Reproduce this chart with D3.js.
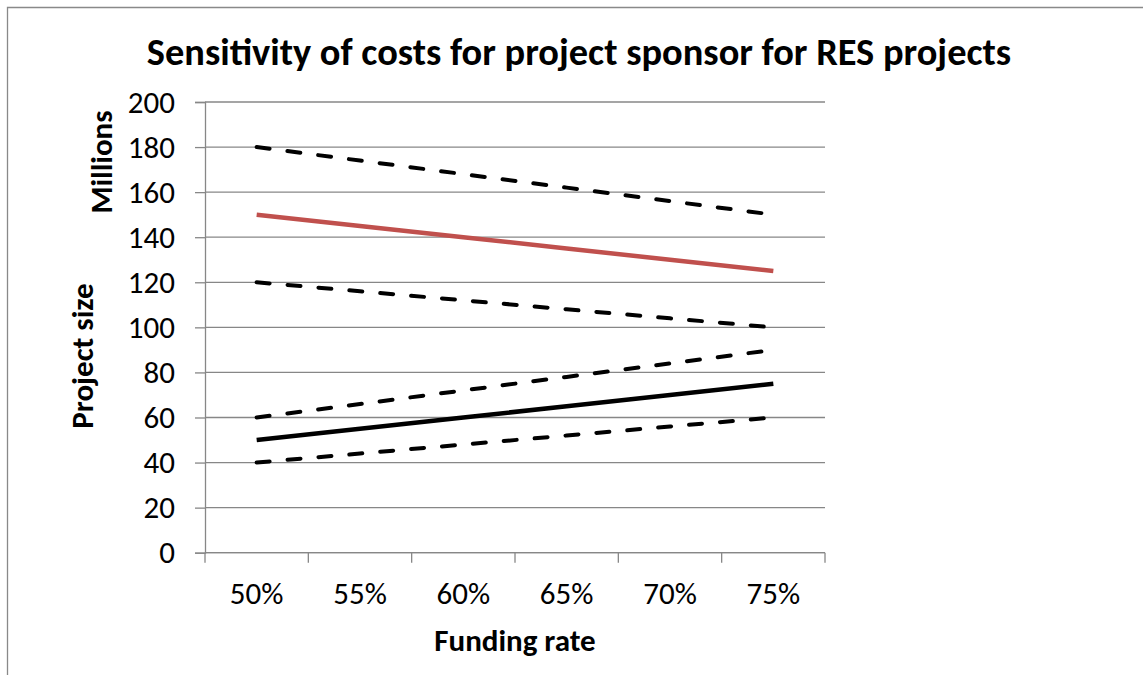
<!DOCTYPE html>
<head>
  <meta charset="utf-8">
  <script src="https://cdn.jsdelivr.net/npm/d3@7"></script>
  <style>
    body { margin: 0; background: white; }
    text { font-family: Carlito, Calibri, Lato, sans-serif; fill: black; }
    .grid line, .domain { stroke: #878787; stroke-width: 1.3; }
  </style>
</head>
<body>
<script>
const W = 1143;
const H = 675;

// funding rates on the x axis
const categories = ["50%", "55%", "60%", "65%", "70%", "75%"];
const yTicks = [0, 20, 40, 60, 80, 100, 120, 140, 160, 180, 200];

// project size, millions
const upperHigh = [180, 174, 168, 162, 156, 150];
const upperBase = [150, 145, 140, 135, 130, 125];
const upperLow  = [120, 116, 112, 108, 104, 100];
const lowerHigh = [60, 66, 72, 78, 84, 90];
const lowerBase = [50, 55, 60, 65, 70, 75];
const lowerLow  = [40, 44, 48, 52, 56, 60];

const seriesList = [
  { values: upperHigh, color: "black", dash: "13 18" },
  { values: upperBase, color: "#c0504d", dash: null },
  { values: upperLow,  color: "black", dash: "13 18" },
  { values: lowerHigh, color: "black", dash: "13 18" },
  { values: lowerBase, color: "black", dash: null },
  { values: lowerLow,  color: "black", dash: "13 18" }
];

const L = 205, R = 825, T = 102, B = 552.7;

var svg = d3.select("body").append("svg")
  .attr("width", W)
  .attr("height", H);

// chart border (only left and top visible)
svg.append("path")
  .attr("d", "M7.5,675V7.5H1143")
  .attr("fill", "none")
  .attr("stroke", "#898989")
  .attr("stroke-width", 1.3);

var x = d3.scaleBand()
  .domain(categories)
  .range([L, R]);

var y = d3.scaleLinear()
  .domain([0, 200])
  .range([B, T]);

// gridlines
svg.append("g")
  .attr("class", "grid")
  .selectAll("line")
  .data(yTicks)
  .enter().append("line")
  .attr("x1", L)
  .attr("x2", R)
  .attr("y1", d => y(d))
  .attr("y2", d => y(d));

// y axis
var yaxis = d3.axisLeft(y)
  .tickValues(yTicks)
  .tickSize(10)
  .tickPadding(20);
var yg = svg.append("g")
  .attr("transform", "translate(" + L + ",0)")
  .call(yaxis);
yg.selectAll(".tick line").attr("stroke", "#878787").attr("stroke-width", 1.3);
yg.selectAll("text")
  .attr("font-size", 31)
  .attr("font-family", null)
  .attr("dy", "0.33em");

// x axis line + ticks at the category edges
var xg = svg.append("g");
xg.append("line")
  .attr("x1", L).attr("x2", R)
  .attr("y1", B).attr("y2", B)
  .attr("stroke", "#878787").attr("stroke-width", 1.3);
xg.selectAll("line.tk")
  .data(categories.map(c => x(c)).concat([x.range()[1]]))
  .enter().append("line")
  .attr("class", "tk")
  .attr("x1", d => d).attr("x2", d => d)
  .attr("y1", B).attr("y2", B + 10)
  .attr("stroke", "#878787").attr("stroke-width", 1.3);
xg.selectAll("text")
  .data(categories)
  .enter().append("text")
  .attr("x", d => x(d) + x.bandwidth() / 2)
  .attr("y", 604)
  .attr("text-anchor", "middle")
  .attr("font-size", 31)
  .text(d => d);

// series
var line = d3.line()
  .x((d, i) => x(categories[i]) + x.bandwidth() / 2)
  .y(d => y(d));

svg.selectAll("path.series")
  .data(seriesList)
  .enter().append("path")
  .attr("class", "series")
  .attr("d", d => line(d.values))
  .attr("fill", "none")
  .attr("stroke", d => d.color)
  .attr("stroke-width", d => d.dash ? 4 : 4.5)
  .attr("stroke-linecap", d => d.dash ? "round" : "butt")
  .attr("stroke-dasharray", d => d.dash);

// titles
svg.append("text")
  .attr("x", 579)
  .attr("y", 65)
  .attr("text-anchor", "middle")
  .attr("font-size", 38.4)
  .attr("font-weight", "bold")
  .text("Sensitivity of costs for project sponsor for RES projects");

svg.append("text")
  .attr("x", 515)
  .attr("y", 651)
  .attr("text-anchor", "middle")
  .attr("font-size", 31)
  .attr("font-weight", "bold")
  .text("Funding rate");

svg.append("text")
  .attr("transform", "translate(93,356) rotate(-90)")
  .attr("text-anchor", "middle")
  .attr("font-size", 31)
  .attr("font-weight", "bold")
  .text("Project size");

svg.append("text")
  .attr("transform", "translate(112,162) rotate(-90)")
  .attr("text-anchor", "middle")
  .attr("font-size", 31)
  .attr("font-weight", "bold")
  .text("Millions");
</script>
</body>
